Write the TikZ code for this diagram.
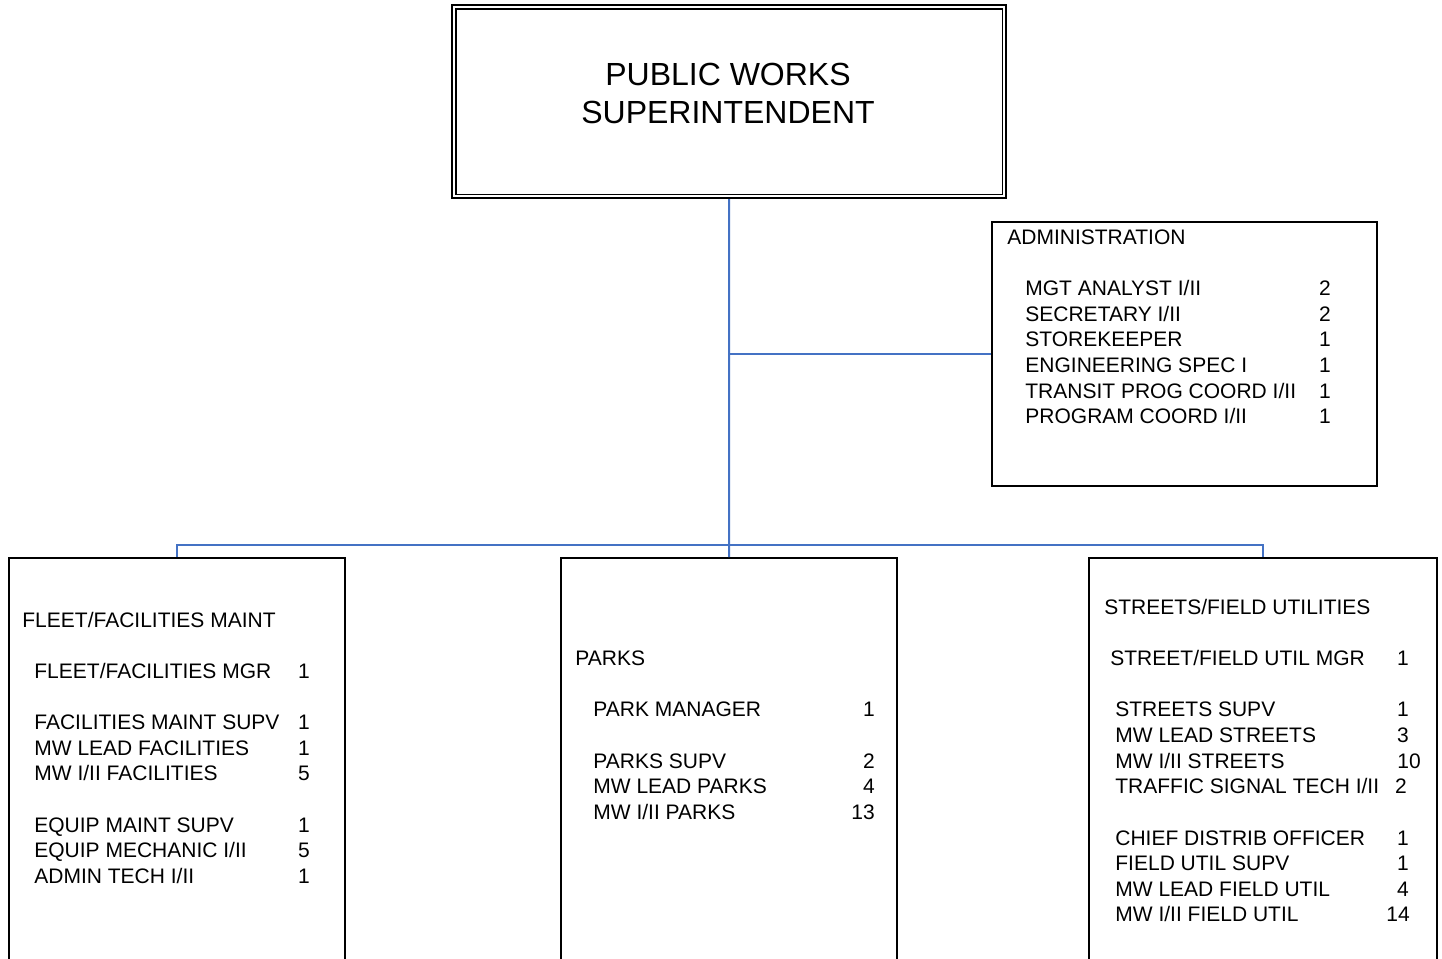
\documentclass[tikz,border=0pt]{standalone}
\usepackage{fontspec}
\setmainfont{Liberation Sans}
\usetikzlibrary{positioning}
\definecolor{linkblue}{HTML}{4472C4}

\begin{document}
\begin{tikzpicture}[x=0.5pt,y=-0.5pt,
  box/.style={draw,line width=1pt,anchor=north west,inner sep=0pt},
  row/.style={anchor=west,inner sep=0pt,text height=7.5pt,text depth=0pt,
    font=\fontsize{10.5}{12.8}\selectfont},
  num/.style={row,anchor=center},
  link/.style={draw=linkblue,line width=1pt}]
\path[use as bounding box,clip] (0,0) rectangle (1442,959);
\fill[white] (0,0) rectangle (1442,959);

% boxes
\node[box,line width=1.1pt,minimum width=277pt,minimum height=96.5pt] (sup) at (451,4) {};
\draw[line width=0.6pt] ([shift={(5,5)}]sup.north west) rectangle ([shift={(-5,-5)}]sup.south east);
\node[box,minimum width=192.5pt,minimum height=132pt] (admin)   at (991,221) {};
\node[box,minimum width=168pt,minimum height=220pt]   (fleet)   at (8,557)    {};
\node[box,minimum width=168pt,minimum height=220pt]   (parks)   at (560,557)  {};
\node[box,minimum width=174pt,minimum height=220pt]   (streets) at (1088,557) {};
\coordinate (bar) at (728,545);

% connectors
\draw[link] (sup.south) -- (parks.north);
\draw[link] (sup.south |- admin.west) -- (admin.west);
\draw[link] (fleet.north) |- (bar) -| (streets.north);

% texts
\node[align=center,inner sep=0pt,font=\fontsize{16}{19}\selectfont] (suptext) at (728,93)
  {PUBLIC WORKS\\SUPERINTENDENT};

\node[row] (admin-t) at (1007,237) {ADMINISTRATION};
\foreach \y/\t/\n [count=\i] in {288/{MGT ANALYST I/II}/2, 314/{SECRETARY I/II}/2,
    339/{STOREKEEPER}/1, 365/{ENGINEERING SPEC I}/1,
    391/{TRANSIT PROG COORD I/II}/1, 416/{PROGRAM COORD I/II}/1}{
  \node[row] (admin-r\i) at (1025,\y) {\t};
  \node[num] (admin-n\i) at (1325,\y) {\n};
}

\node[row] (fleet-t) at (22,620) {FLEET/FACILITIES MAINT};
\foreach \y/\t/\n [count=\i] in {671/{FLEET/FACILITIES MGR}/1,
    722/{FACILITIES MAINT SUPV}/1, 748/{MW LEAD FACILITIES}/1, 773/{MW I/II FACILITIES}/5,
    825/{EQUIP MAINT SUPV}/1, 850/{EQUIP MECHANIC I/II}/5, 876/{ADMIN TECH I/II}/1}{
  \node[row] (fleet-r\i) at (34,\y) {\t};
  \node[num] (fleet-n\i) at (304,\y) {\n};
}

\node[row] (parks-t) at (575,658) {PARKS};
\foreach \y/\t/\n/\nx [count=\i] in {709/{PARK MANAGER}/1/869,
    761/{PARKS SUPV}/2/869, 786/{MW LEAD PARKS}/4/869, 812/{MW I/II PARKS}/13/863}{
  \node[row] (parks-r\i) at (593,\y) {\t};
  \node[num] (parks-n\i) at (\nx,\y) {\n};
}

\node[row] (streets-t) at (1104,607) {STREETS/FIELD UTILITIES};
\node[row] (streets-m) at (1110,658) {STREET/FIELD UTIL MGR};
\node[num] (streets-mn) at (1403,658) {1};
\foreach \y/\t/\n/\nx [count=\i] in {709/{STREETS SUPV}/1/1403,
    735/{MW LEAD STREETS}/3/1403, 761/{MW I/II STREETS}/10/1409,
    786/{TRAFFIC SIGNAL TECH I/II}/2/1401, 838/{CHIEF DISTRIB OFFICER}/1/1403,
    863/{FIELD UTIL SUPV}/1/1403, 889/{MW LEAD FIELD UTIL}/4/1403,
    914/{MW I/II FIELD UTIL}/14/1398}{
  \node[row] (streets-r\i) at (1115,\y) {\t};
  \node[num] (streets-n\i) at (\nx,\y) {\n};
}
\end{tikzpicture}
\end{document}
